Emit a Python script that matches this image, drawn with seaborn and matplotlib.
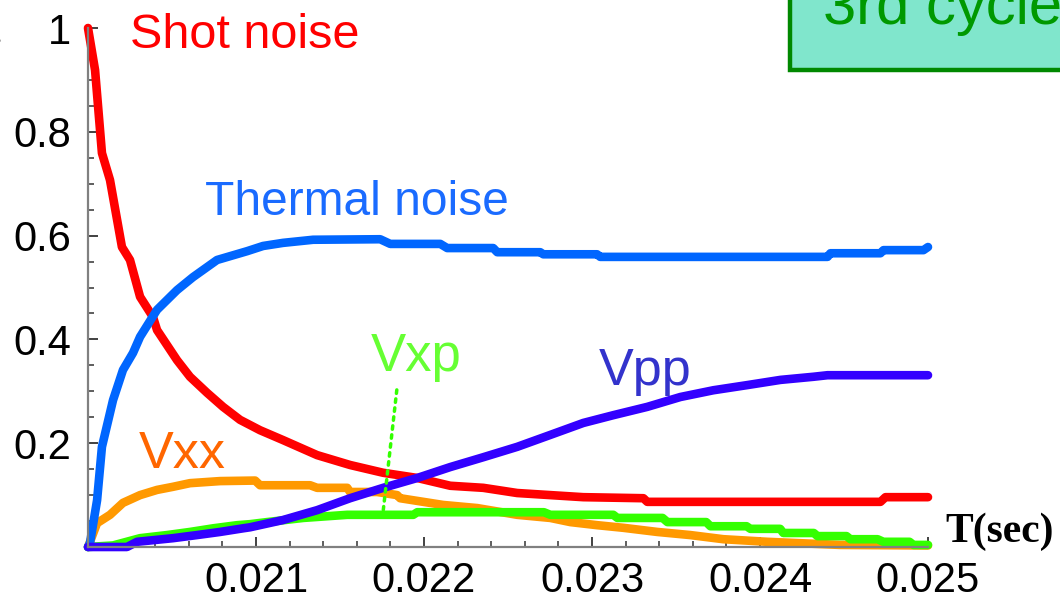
import matplotlib
matplotlib.use("Agg")
import matplotlib.pyplot as plt
import seaborn as sns
from matplotlib.patches import Rectangle
from matplotlib.ticker import MultipleLocator

# ---------------- data ----------------
shot_t = [0.020000, 0.020042, 0.020083, 0.020131, 0.020202, 0.020250, 0.020310, 0.020387,
          0.020411, 0.020530, 0.020607, 0.020709, 0.020804, 0.020905, 0.021024, 0.021161,
          0.021364, 0.021560, 0.021757, 0.021960, 0.022156, 0.022353, 0.022555, 0.022948,
          0.023306, 0.023329, 0.024717, 0.024747, 0.025000]
shot_v = [1.000, 0.919, 0.759, 0.707, 0.578, 0.553, 0.482, 0.443,
          0.418, 0.360, 0.328, 0.297, 0.270, 0.245, 0.225, 0.206,
          0.177, 0.158, 0.143, 0.133, 0.118, 0.114, 0.104, 0.096,
          0.094, 0.087, 0.087, 0.096, 0.096]

thermal_t = [0.020000, 0.020012, 0.020054, 0.020083, 0.020149, 0.020208, 0.020268, 0.020310,
             0.020411, 0.020530, 0.020625, 0.020768, 0.020947, 0.021042, 0.021161, 0.021340,
             0.021739, 0.021799, 0.022097, 0.022138, 0.022412, 0.022436, 0.022692, 0.022710,
             0.023030, 0.023049, 0.024402, 0.024419, 0.024717, 0.024735, 0.024973, 0.025000]
thermal_v = [0.000, 0.008, 0.090, 0.193, 0.283, 0.341, 0.374, 0.405,
             0.457, 0.495, 0.520, 0.553, 0.570, 0.580, 0.586, 0.592,
             0.593, 0.584, 0.584, 0.576, 0.576, 0.568, 0.568, 0.564,
             0.564, 0.559, 0.559, 0.566, 0.566, 0.572, 0.572, 0.578]

vxx_t = [0.020000, 0.020012, 0.020054, 0.020131, 0.020208, 0.020310, 0.020411, 0.020506,
         0.020607, 0.020786, 0.020995, 0.021024, 0.021322, 0.021364, 0.021543, 0.021560,
         0.021721, 0.021840, 0.021858, 0.022114, 0.022317, 0.022555, 0.022752, 0.022871,
         0.023032, 0.023186, 0.023389, 0.023585, 0.023782, 0.024044, 0.024479, 0.025000]
vxx_v = [0.000, 0.010, 0.046, 0.062, 0.085, 0.100, 0.110, 0.116,
         0.123, 0.127, 0.128, 0.119, 0.119, 0.114, 0.114, 0.106,
         0.106, 0.100, 0.094, 0.081, 0.075, 0.062, 0.056, 0.048,
         0.042, 0.037, 0.029, 0.023, 0.015, 0.010, 0.004, 0.003]

vxp_t = [0.020000, 0.020149, 0.020310, 0.020471, 0.020607, 0.020745, 0.020887, 0.020965,
         0.021066, 0.021281, 0.021543, 0.021936, 0.021960, 0.022714, 0.022752, 0.023127,
         0.023151, 0.023420, 0.023449, 0.023680, 0.023705, 0.023920, 0.023943, 0.024120,
         0.024139, 0.024320, 0.024342, 0.024515, 0.024538, 0.024700, 0.024735, 0.024890,
         0.024914, 0.025000]
vxp_v = [0.000, 0.003, 0.017, 0.023, 0.029, 0.036, 0.042, 0.044,
         0.048, 0.056, 0.062, 0.062, 0.067, 0.067, 0.062, 0.062,
         0.056, 0.056, 0.048, 0.048, 0.040, 0.040, 0.035, 0.035,
         0.027, 0.027, 0.021, 0.021, 0.015, 0.015, 0.010, 0.010,
         0.004, 0.004]

vpp_t = [0.020000, 0.020232, 0.020292, 0.020506, 0.020649, 0.020786, 0.020923, 0.020965,
         0.021161, 0.021364, 0.021560, 0.021757, 0.021960, 0.022156, 0.022353, 0.022555,
         0.022752, 0.022948, 0.023127, 0.023329, 0.023526, 0.023722, 0.023925, 0.024122,
         0.024318, 0.024402, 0.025000]
vpp_v = [0.000, 0.000, 0.010, 0.017, 0.023, 0.029, 0.036, 0.038,
         0.052, 0.071, 0.094, 0.114, 0.133, 0.154, 0.173, 0.193,
         0.216, 0.239, 0.254, 0.270, 0.289, 0.302, 0.312, 0.322,
         0.328, 0.331, 0.331]

# dotted pointer from the "Vxp" label down to its curve
vxp_pointer_t = [0.021751, 0.021840]
vxp_pointer_v = [0.052, 0.308]

x_ticks = [0.021, 0.022, 0.023, 0.024, 0.025]
x_tick_labels = ["0.021", "0.022", "0.023", "0.024", "0.025"]
y_ticks = [0.2, 0.4, 0.6, 0.8, 1.0]
y_tick_labels = ["0.2", "0.4", "0.6", "0.8", "1"]

# ---------------- style ----------------
sns.set_style("white")
plt.rcParams["font.family"] = ["Liberation Sans", "DejaVu Sans"]

W, H = 1060, 603
fig = plt.figure(figsize=(W / 100, H / 100), dpi=100)
ax = fig.add_axes([88 / W, 1 - 547 / H, (928 - 88) / W, (547 - 28) / H])

def fx(px):
    return px / W

def fy(py):
    return 1 - py / H

series = [
    (vxx_t, vxx_v, "#FF9900"),
    (vxp_t, vxp_v, "#33FF00"),
    (shot_t, shot_v, "#FF0000"),
    (thermal_t, thermal_v, "#0066FF"),
    (vpp_t, vpp_v, "#3300FF"),
]
for t, v, c in series:
    sns.lineplot(x=t, y=v, color=c, linewidth=6.2, ax=ax, sort=False, estimator=None)

for ln in ax.lines:
    ln.set_clip_on(False)
    ln.set_solid_capstyle("round")
    ln.set_solid_joinstyle("round")

ax.annotate("", xy=(vxp_pointer_t[0], vxp_pointer_v[0]),
            xytext=(vxp_pointer_t[1], vxp_pointer_v[1]),
            arrowprops=dict(arrowstyle="-", color="#33FF00", lw=2.5, linestyle=(0, (1, 1.6))))

ax.set_xlim(0.020, 0.025)
ax.set_ylim(0, 1)
ax.set_xticks(x_ticks)
ax.set_xticklabels(x_tick_labels)
ax.set_yticks(y_ticks)
ax.set_yticklabels(y_tick_labels)
ax.xaxis.set_minor_locator(MultipleLocator(0.0002))
ax.yaxis.set_minor_locator(MultipleLocator(0.05))
ax.tick_params(which="both", bottom=True, left=True, top=False, right=False)
ax.tick_params(which="major", direction="in", length=7, width=1.3, color="#333333",
               labelsize=30, labelcolor="black")
ax.tick_params(which="minor", direction="in", length=4, width=1.1, color="#333333")
ax.tick_params(axis="y", which="major", pad=12)
ax.tick_params(axis="x", which="major", pad=10)
ax.set_xlabel("")
ax.set_ylabel("")
ax.grid(False)
ax.set_facecolor("none")

sns.despine(ax=ax)
for s in ("left", "bottom"):
    ax.spines[s].set_color("#808080")
    ax.spines[s].set_linewidth(1.6)

# ---------------- text labels ----------------
fig.text(fx(130), fy(48), "Shot noise", color="#FF0000", fontsize=35, ha="left", va="baseline")
fig.text(fx(205), fy(215), "Thermal noise", color="#1A6BFF", fontsize=34.5, ha="left", va="baseline")
fig.text(fx(139), fy(468), "Vxx", color="#FF6600", fontsize=37.5, ha="left", va="baseline")
fig.text(fx(371), fy(371), "Vxp", color="#66FF33", fontsize=38, ha="left", va="baseline")
fig.text(fx(599), fy(385), "Vpp", color="#3333CC", fontsize=37.5, ha="left", va="baseline")
fig.text(fx(945), fy(542), "T(sec)", color="black", fontsize=30, fontweight="bold",
         family=["Liberation Serif", "DejaVu Serif"], ha="left", va="baseline")
fig.text(fx(-9), fy(42), "t", color="black", fontsize=22, ha="left", va="baseline")

box = Rectangle((fx(790), fy(70)), 0.4, 0.3, transform=fig.transFigure,
                facecolor="#80E6CC", edgecolor="#008800", linewidth=3.2, clip_on=False, zorder=1)
fig.add_artist(box)
fig.text(fx(823), fy(24), "3rd cycle", color="#009900", fontsize=43, ha="left",
         va="baseline", zorder=2)

fig.savefig("out.png", dpi=100)
